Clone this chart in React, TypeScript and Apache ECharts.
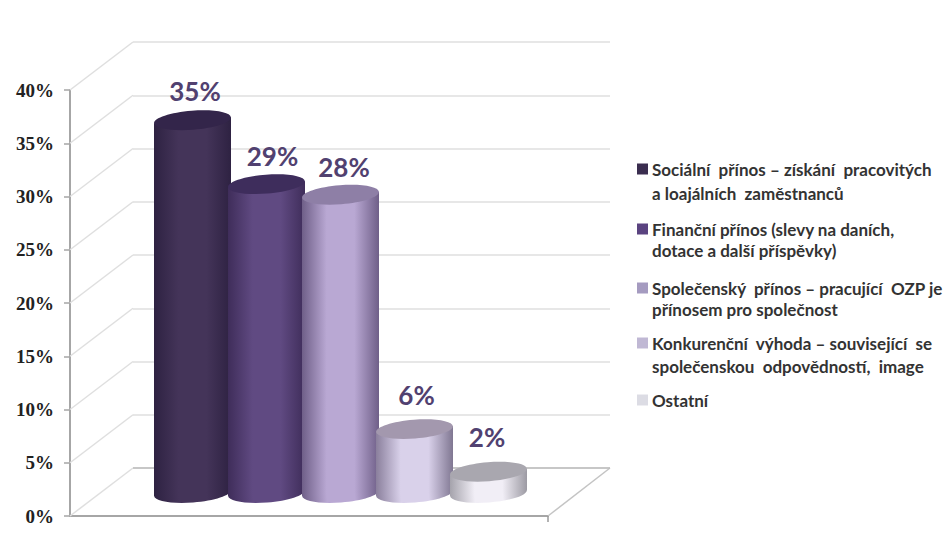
import React, { useEffect, useRef } from "react";
import * as echarts from "echarts";

const categories = [
  "Sociální přínos – získání pracovitých a loajálních zaměstnanců",
  "Finanční přínos (slevy na daních, dotace a další příspěvky)",
  "Společenský přínos – pracující OZP je přínosem pro společnost",
  "Konkurenční výhoda – související se společenskou odpovědností, image",
  "Ostatní",
];
const values = [35, 29, 28, 6, 2];
const yTicks = [0, 5, 10, 15, 20, 25, 30, 35, 40];

const legendLines = [
  ["Sociální  přínos – získání  pracovitých", "a loajálních  zaměstnanců"],
  ["Finanční přínos (slevy na daních,", "dotace a další příspěvky)"],
  ["Společenský  přínos – pracující  OZP je", "přínosem pro společnost"],
  ["Konkurenční  výhoda – související  se", "společenskou  odpovědností,  image"],
  ["Ostatní"],
];
const legendColors = ["#3a2d4f", "#5a4380", "#a59bc0", "#c0b8d4", "#dcdce4"];

const capColors = ["#33254a", "#3e2d5c", "#8e7fa6", "#a398ae", "#a9a7af"];
const edgeLeft = ["#2e2242", "#3f2d5a", "#6f5f88", "#8a7f9c", "#a5a3ac"];
const edgeRight = ["#2e2242", "#3f2d5a", "#6f5f88", "#807792", "#9c9aa3"];
const midColors = ["#443459", "#604a82", "#b9a8d3", "#d9d1ea", "#f1eef6"];

const labelDx = [2.5, 6, 3.5, 2, -1.5];
const labelDy = [-29, -28, -28, -34, -35];

const FONT = "Lato, Carlito, sans-serif";
const WALL_DX = 63;
const WALL_DY = -48;
const FLOOR_W = 478;

// One cylinder: shaded body, rounded foot and a slightly tilted top cap.
const cylinder = (idx: number) => (params: any, api: any) => {
  const i = api.value(0);
  const v = api.value(1);
  const top = api.coord([i, v]);
  const base = api.coord([i, 0]);
  const rx = api.size([1, 0])[0] / 2 + 1.5;
  const ry = 9.5;
  const dy = 3;
  const tilt = Math.atan2(dy, rx);
  const fill = new echarts.graphic.LinearGradient(0, 0, 1, 0, [
    { offset: 0, color: edgeLeft[idx] },
    { offset: 0.32, color: midColors[idx] },
    { offset: 0.68, color: midColors[idx] },
    { offset: 1, color: edgeRight[idx] },
  ]);
  const cx = top[0];
  return {
    type: "group",
    children: [
      {
        type: "ellipse",
        x: cx,
        y: base[1],
        rotation: tilt,
        shape: { cx: 0, cy: 0, rx, ry },
        style: { fill },
      },
      {
        type: "polygon",
        shape: {
          points: [
            [cx - rx, top[1] + dy],
            [cx + rx, top[1] - dy],
            [cx + rx, base[1] - dy],
            [cx - rx, base[1] + dy],
          ],
        },
        style: { fill },
      },
      {
        type: "ellipse",
        x: cx,
        y: top[1],
        rotation: tilt,
        shape: { cx: 0, cy: 0, rx, ry },
        style: { fill: capColors[idx] },
      },
      {
        type: "text",
        x: cx + labelDx[idx],
        y: top[1] + labelDy[idx],
        style: {
          text: `${v}%`,
          fill: "#514170",
          fontFamily: FONT,
          fontWeight: 700,
          fontSize: 26,
          align: "center",
          verticalAlign: "middle",
        },
      },
    ],
  };
};

// Side-wall slant running from the front axis back to each wall gridline.
const wallSlant = (params: any, api: any) => {
  const p = api.coord([0, api.value(1)]);
  return {
    type: "line",
    shape: { x1: p[0], y1: p[1], x2: p[0] + WALL_DX, y2: p[1] + WALL_DY },
    style: { stroke: "#dfdfdf", lineWidth: 1.5 },
  };
};

// Right edge of the floor, with the closing tick below the front axis.
const floorEdge = (params: any, api: any) => {
  const p = api.coord([1, 0]);
  return {
    type: "group",
    children: [
      {
        type: "line",
        shape: { x1: p[0], y1: p[1], x2: p[0] + WALL_DX - 1, y2: p[1] + WALL_DY },
        style: { stroke: "#c4c4c4", lineWidth: 1.5 },
      },
      {
        type: "line",
        shape: { x1: p[0], y1: p[1], x2: p[0], y2: p[1] + 6 },
        style: { stroke: "#9a9a9a", lineWidth: 1.5 },
      },
      {
        type: "line",
        shape: {
          x1: p[0] - FLOOR_W + WALL_DX,
          y1: p[1] + WALL_DY,
          x2: p[0] + WALL_DX - 1,
          y2: p[1] + WALL_DY,
        },
        style: { stroke: "#bdbdbd", lineWidth: 1.5 },
      },
    ],
  };
};

const legendGraphics = () => {
  const rowY = [169, 229, 288, 343, 400];
  const lineGap = [24, 21, 21, 23, 0];
  const out: any[] = [];
  legendLines.forEach((lines, r) => {
    out.push({
      type: "rect",
      left: 637,
      top: rowY[r] - 5.5,
      shape: { width: 11, height: 11 },
      style: { fill: legendColors[r] },
    });
    lines.forEach((line, k) => {
      out.push({
        type: "text",
        x: 652,
        y: rowY[r] + k * lineGap[r],
        style: {
          text: line,
          fill: "#333333",
          fontFamily: FONT,
          fontWeight: 700,
          fontSize: 17,
          verticalAlign: "middle",
        },
      });
    });
  });
  return out;
};

export default function App() {
  const ref = useRef<HTMLDivElement>(null);

  useEffect(() => {
    document.body.style.margin = "0";
    const chart = echarts.init(ref.current!, undefined, { renderer: "svg" });
    const hiddenAxis = { show: false };
    chart.setOption({
      animation: false,
      backgroundColor: "#ffffff",
      grid: [
        { left: 70, top: 90, width: FLOOR_W, height: 426 },
        { left: 70 + WALL_DX, top: 90 + WALL_DY, width: FLOOR_W - 1, height: 426 },
        { left: 155.5, top: 67, width: 370, height: 426 },
      ],
      xAxis: [
        {
          gridIndex: 0,
          type: "value",
          min: 0,
          max: 1,
          splitLine: { show: false },
          axisLabel: { show: false },
          axisTick: { show: false },
          axisLine: { show: true, onZero: false, lineStyle: { color: "#a6a6a6", width: 2 } },
        },
        { gridIndex: 1, type: "value", min: 0, max: 1, ...hiddenAxis },
        { gridIndex: 2, type: "category", data: categories, ...hiddenAxis },
      ],
      yAxis: [
        {
          gridIndex: 0,
          type: "value",
          min: 0,
          max: 40,
          interval: 5,
          splitLine: { show: false },
          axisLine: { show: true, lineStyle: { color: "#a6a6a6", width: 2 } },
          axisTick: { show: true, length: 6, lineStyle: { color: "#a6a6a6", width: 1.5 } },
          axisLabel: {
            formatter: "{value}%",
            margin: 16,
            color: "#222222",
            fontFamily: "'Liberation Serif'",
            fontWeight: 700,
            fontSize: 19,
          },
        },
        {
          gridIndex: 1,
          type: "value",
          min: 0,
          max: 40,
          interval: 5,
          axisLabel: { show: false },
          axisTick: { show: false },
          axisLine: { show: false },
          splitLine: { show: true, lineStyle: { color: "#dfdfdf", width: 1.5 } },
        },
        { gridIndex: 2, type: "value", min: 0, max: 40, ...hiddenAxis },
      ],
      graphic: legendGraphics(),
      series: [
        {
          type: "custom",
          name: "slants",
          silent: true,
          xAxisIndex: 0,
          yAxisIndex: 0,
          data: yTicks.map((t) => [0, t]),
          renderItem: wallSlant,
          z: 1,
        },
        {
          type: "custom",
          name: "floor",
          silent: true,
          xAxisIndex: 0,
          yAxisIndex: 0,
          data: [[1, 0]],
          renderItem: floorEdge,
          z: 1,
        },
        ...values.map((v, i) => ({
          type: "custom",
          name: categories[i],
          xAxisIndex: 2,
          yAxisIndex: 2,
          data: [[i, v]],
          renderItem: cylinder(i),
          z: 2 + i,
        })),
      ],
    });
    return () => chart.dispose();
  }, []);

  return <div ref={ref} style={{ width: 946, height: 536 }} />;
}
